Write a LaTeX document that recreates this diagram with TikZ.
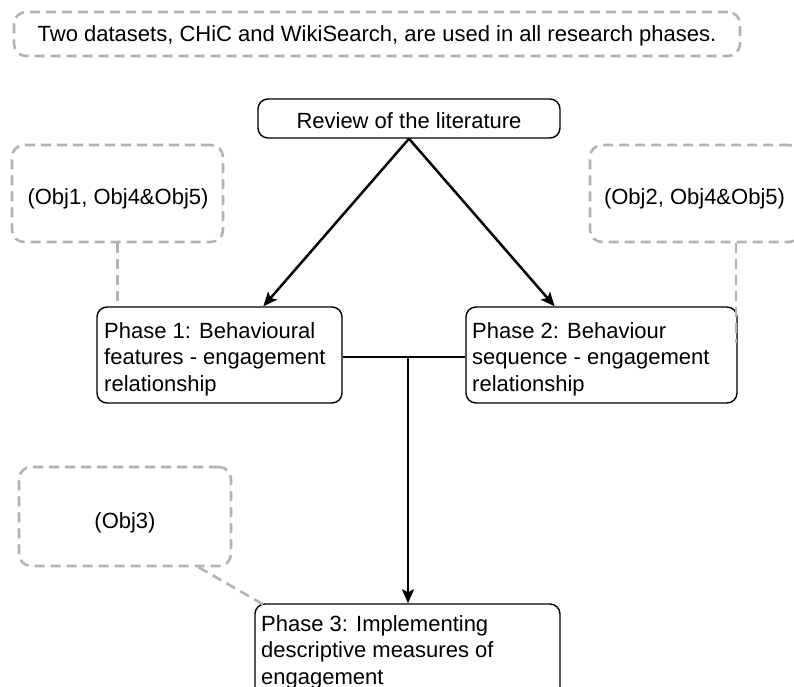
\documentclass[tikz,border=0pt]{standalone}
\usepackage{fontspec}
\setmainfont{Liberation Sans}
\usetikzlibrary{arrows.meta,calc}
\definecolor{notegray}{HTML}{B3B3B3}
\begin{document}
\begin{tikzpicture}[x=1pt,y=-1pt,
  every node/.style={font=\fontsize{22}{26.5}\selectfont, inner sep=0pt},
  stagebox/.style={draw=black, line width=1.4pt, rounded corners=10pt},
  notebox/.style={draw=notegray, line width=2.6pt, dash pattern=on 10pt off 6pt, rounded corners=12pt},
  notelink/.style={draw=notegray, line width=2.6pt, dash pattern=on 10pt off 6pt},
  flow/.style={line width=2.5pt, -{Stealth[length=14pt,width=12pt,inset=3pt]}},
  label/.style={anchor=north west, align=left}]
\useasboundingbox (0,0) rectangle (794,686);

% banner
\node[notebox, minimum width=726pt, minimum height=44pt] (banner) at (377,34) {};
\node[anchor=base] (bannert) at (377,41) {Two datasets, CHiC and WikiSearch, are used in all research phases.};

% main stages
\node[stagebox, minimum width=302pt, minimum height=39pt] (rev) at (409,118.5) {};
\node[anchor=base] (revt) at (409,128) {Review of the literature};

\node[stagebox, minimum width=245pt, minimum height=96pt] (p1) at (219.5,355) {};
\node[label] (p1t) at (104,322) {Phase 1: Behavioural\\features - engagement\\relationship};

\node[stagebox, minimum width=271pt, minimum height=96pt] (p2) at (601.5,355) {};
\node[label] (p2t) at (472,322) {Phase 2: Behaviour\\sequence - engagement\\relationship};

\node[stagebox, minimum width=305pt, minimum height=100pt] (p3) at (407.5,654) {};
\node[label] (p3t) at (261,615) {Phase 3: Implementing\\descriptive measures of\\engagement};

% objective notes
\node[notebox, minimum width=211pt, minimum height=97pt] (o1) at (117.5,193.5) {};
\node[anchor=base] (o1t) at (118,204) {(Obj1, Obj4\&Obj5)};

\node[notebox, minimum width=211pt, minimum height=97pt] (o2) at (695.5,193.5) {};
\node[anchor=base] (o2t) at (694.5,204) {(Obj2, Obj4\&Obj5)};

\node[notebox, minimum width=212pt, minimum height=99pt] (o3) at (125,516.5) {};
\node[anchor=base] (o3t) at (125,528) {(Obj3)};

% flow arrows
\draw[flow] (rev.south) -- ($(p1.north west)!0.678!(p1.north east)$);
\draw[flow] (rev.south) -- ($(p2.north west)!0.328!(p2.north east)$);
\coordinate (j) at (408,357);
\draw[line width=2.5pt] (p1.east |- j) -- (p2.west |- j);
\draw[flow] (j) -- (j |- p3.north);

% note links
\draw[notelink] (o1.south) -- (o1.south |- p1.north);
\coordinate (c2) at (736,343);
\draw[notelink] (o2.south -| c2) -- (c2);
\coordinate (c3) at (266,606);
\draw[notelink] ($(o3.south west)+(181,0)$) -- (c3);
\end{tikzpicture}
\end{document}
